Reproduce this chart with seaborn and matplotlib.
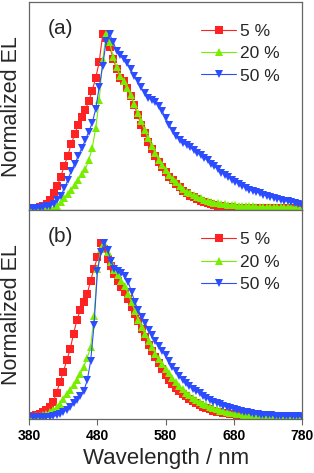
import numpy as np
import pandas as pd
import seaborn as sns
import matplotlib.pyplot as plt

# wavelength grid (nm) shared by every spectrum
wavelength = list(range(380, 785, 5))
labels = ['5 %', '20 %', '50 %']
colors = ['#ff2222', '#77ee00', '#2b4cff']
markers = ['s', '^', 'v']

# panel (a)
top_5 = [0, 0, 0.004, 0.008, 0.015, 0.025, 0.045, 0.085, 0.13, 0.18,
         0.245, 0.30, 0.37, 0.425, 0.48, 0.525, 0.565, 0.615, 0.675, 0.75,
         0.84, 1.0, 0.98, 0.93, 0.86, 0.80, 0.75, 0.73, 0.69, 0.645,
         0.595, 0.535, 0.48, 0.43, 0.38, 0.34, 0.30, 0.265, 0.235, 0.21,
         0.18, 0.16, 0.14, 0.12, 0.10, 0.085, 0.072, 0.062, 0.052, 0.044,
         0.036, 0.03, 0.024, 0.019, 0.015, 0.012, 0.009, 0.007, 0.005, 0.004,
         0.003, 0.002, 0.001, 0.001, 0.001, 0, 0, 0, 0, 0,
         0, 0, 0, 0, 0, 0, 0, 0, 0, 0,
         0]
top_20 = [0, 0, 0, 0, 0, 0, 0, 0.003, 0.015, 0.035,
          0.058, 0.083, 0.107, 0.135, 0.165, 0.195, 0.225, 0.275, 0.345, 0.46,
          0.62, 0.85, 1.0, 0.955, 0.87, 0.81, 0.76, 0.73, 0.69, 0.65,
          0.60, 0.55, 0.50, 0.45, 0.405, 0.36, 0.32, 0.28, 0.25, 0.22,
          0.19, 0.17, 0.15, 0.13, 0.11, 0.095, 0.085, 0.075, 0.065, 0.058,
          0.048, 0.042, 0.037, 0.032, 0.028, 0.025, 0.022, 0.02, 0.018, 0.016,
          0.014, 0.013, 0.012, 0.011, 0.01, 0.009, 0.009, 0.008, 0.008, 0.007,
          0.007, 0.006, 0.006, 0.006, 0.005, 0.005, 0.005, 0.004, 0.004, 0.004,
          0.004]
top_50 = [0, 0, 0.002, 0.004, 0.006, 0.01, 0.015, 0.025, 0.045, 0.07,
          0.115, 0.16, 0.215, 0.255, 0.30, 0.345, 0.39, 0.44, 0.49, 0.57,
          0.695, 0.82, 0.96, 1.0, 0.955, 0.905, 0.88, 0.86, 0.835, 0.80,
          0.76, 0.73, 0.695, 0.66, 0.635, 0.622, 0.61, 0.59, 0.56, 0.52,
          0.48, 0.445, 0.415, 0.395, 0.375, 0.362, 0.35, 0.335, 0.32, 0.305,
          0.29, 0.275, 0.255, 0.24, 0.228, 0.205, 0.19, 0.177, 0.165, 0.152,
          0.14, 0.128, 0.117, 0.107, 0.098, 0.092, 0.086, 0.078, 0.072, 0.066,
          0.06, 0.054, 0.048, 0.044, 0.04, 0.036, 0.03, 0.024, 0.019, 0.015,
          0.012]

# panel (b)
bot_5 = [0, 0.002, 0.008, 0.015, 0.025, 0.04, 0.058, 0.085, 0.14, 0.20,
         0.26, 0.325, 0.39, 0.48, 0.56, 0.615, 0.66, 0.71, 0.785, 0.855,
         0.92, 1.0, 0.97, 0.91, 0.87, 0.825, 0.785, 0.75, 0.72, 0.68,
         0.635, 0.59, 0.55, 0.505, 0.46, 0.415, 0.38, 0.345, 0.31, 0.275,
         0.24, 0.215, 0.19, 0.168, 0.15, 0.132, 0.117, 0.102, 0.089, 0.077,
         0.067, 0.057, 0.049, 0.042, 0.036, 0.03, 0.026, 0.022, 0.019, 0.016,
         0.014, 0.012, 0.01, 0.009, 0.008, 0.007, 0.006, 0.005, 0.004, 0.004,
         0.003, 0.003, 0.002, 0.002, 0.002, 0.001, 0.001, 0.001, 0.001, 0,
         0]
bot_20 = [0, 0.001, 0.003, 0.006, 0.01, 0.018, 0.027, 0.038, 0.055, 0.075,
          0.105, 0.13, 0.155, 0.183, 0.21, 0.245, 0.29, 0.34, 0.40, 0.58,
          0.85, 0.97, 1.0, 0.95, 0.895, 0.845, 0.815, 0.785, 0.755, 0.71,
          0.66, 0.61, 0.56, 0.515, 0.475, 0.435, 0.40, 0.365, 0.335, 0.305,
          0.275, 0.25, 0.225, 0.20, 0.178, 0.158, 0.14, 0.125, 0.11, 0.097,
          0.086, 0.075, 0.066, 0.057, 0.049, 0.042, 0.036, 0.031, 0.026, 0.022,
          0.019, 0.017, 0.015, 0.013, 0.012, 0.011, 0.01, 0.01, 0.009, 0.009,
          0.008, 0.008, 0.008, 0.007, 0.007, 0.007, 0.007, 0.006, 0.006, 0.006,
          0.006]
bot_50 = [0, 0, 0, 0, 0, 0, 0, 0.002, 0.008, 0.017,
          0.028, 0.04, 0.057, 0.077, 0.097, 0.12, 0.15, 0.21, 0.32, 0.53,
          0.84, 0.95, 1.0, 0.96, 0.90, 0.852, 0.84, 0.828, 0.81, 0.78,
          0.72, 0.66, 0.615, 0.577, 0.54, 0.50, 0.47, 0.44, 0.41, 0.38,
          0.355, 0.32, 0.29, 0.265, 0.238, 0.215, 0.195, 0.178, 0.162, 0.148,
          0.135, 0.122, 0.11, 0.098, 0.088, 0.079, 0.071, 0.064, 0.057, 0.05,
          0.044, 0.038, 0.033, 0.029, 0.025, 0.021, 0.018, 0.015, 0.013, 0.011,
          0.009, 0.008, 0.007, 0.006, 0.005, 0.004, 0.003, 0.003, 0.002, 0.002,
          0.001]

sns.set_style('ticks')
plt.rcParams['font.family'] = ['Liberation Sans', 'DejaVu Sans']
plt.rcParams['axes.edgecolor'] = '#666666'
plt.rcParams['xtick.color'] = '#666666'
plt.rcParams['xtick.labelcolor'] = 'black'

fig = plt.figure(figsize=(3.14, 4.73), dpi=100)
ax_a = fig.add_axes([0.0933, 0.555, 0.868, 0.4408])
ax_b = fig.add_axes([0.0933, 0.1152, 0.868, 0.4398])

panels = [(ax_a, [top_5, top_20, top_50], '(a)', (380, 770), (-0.013, 1.186)),
          (ax_b, [bot_5, bot_20, bot_50], '(b)', (380, 780), (-0.01, 1.19))]

for ax, series, tag, xlim, ylim in panels:
    for vals, lab, col, mk in zip(series, labels, colors, markers):
        df = pd.DataFrame({'wl': wavelength, 'el': vals})
        sns.lineplot(data=df, x='wl', y='el', ax=ax, color=col, marker=mk,
                     markersize=5.2, markeredgewidth=0, linewidth=0.8, label=lab)
    ax.set_xlim(*xlim)
    ax.set_ylim(*ylim)
    ax.set_yticks([])
    ax.set_xticks([480, 580, 680] if tag == '(a)' else [380, 480, 580, 680, 780])
    ax.tick_params(axis='x', direction='out', length=4, width=0.8)
    ax.set_ylabel('Normalized EL', fontsize=15.5, labelpad=5)
    ax.set_xlabel('')
    ax.text(0.066, 0.875, tag, transform=ax.transAxes, fontsize=15, va='center')
    for s in ax.spines.values():
        s.set_linewidth(0.9)
    leg = ax.legend(loc='upper right', bbox_to_anchor=(0.965, 0.955), frameon=False,
                    fontsize=12.5, handlelength=2.0, handletextpad=0.25,
                    labelspacing=0.42, borderaxespad=0.3, markerscale=1.2)

ax_a.set_xticklabels([])
ax_b.set_xticklabels([str(v) for v in [380, 480, 580, 680, 780]],
                     fontsize=10, fontweight='bold')
ax_b.set_xlabel('Wavelength / nm', fontsize=16, labelpad=4)

fig.savefig('out.png', dpi=100)
